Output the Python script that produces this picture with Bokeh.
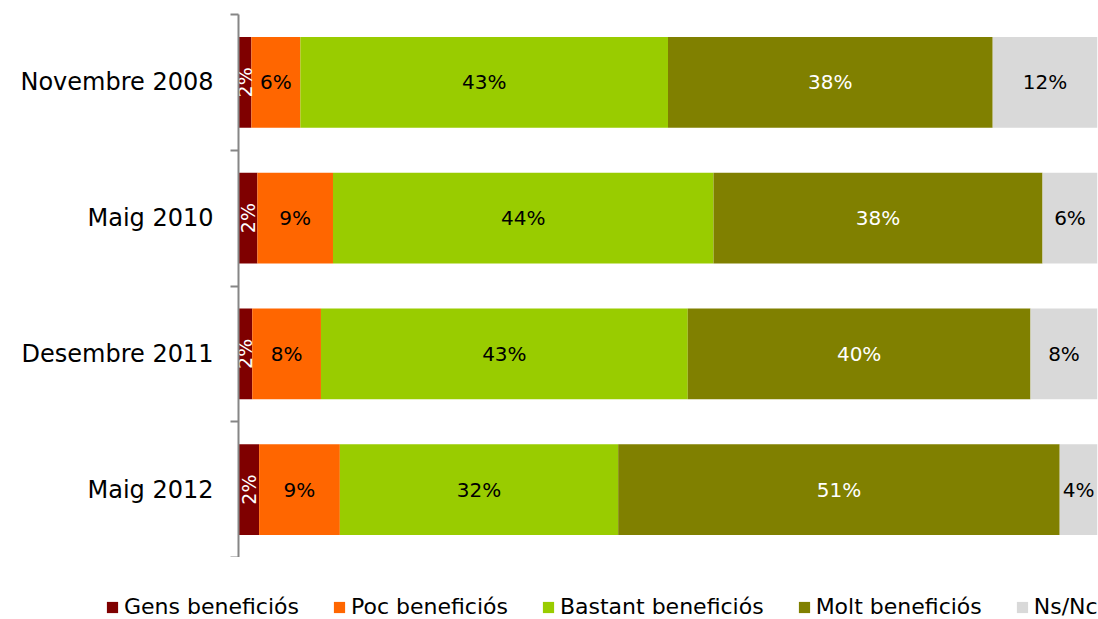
import math
from bokeh.plotting import figure
from bokeh.models import Range1d, FixedTicker, Legend, LegendItem, ColumnDataSource
from bokeh.core.properties import value
from bokeh.embed import file_html
from bokeh.resources import INLINE

categories = ["Novembre 2008", "Maig 2010", "Desembre 2011", "Maig 2012"]
series = ["Gens beneficiós", "Poc beneficiós", "Bastant beneficiós", "Molt beneficiós", "Ns/Nc"]
gens = [1.5, 2.2, 1.6, 2.4]
poc = [5.7, 8.8, 8.0, 9.4]
bastant = [42.8, 44.3, 42.7, 32.4]
molt = [37.8, 38.3, 39.9, 51.4]
nsnc = [12.2, 6.4, 7.8, 4.4]
labels_gens = ["2%", "2%", "2%", "2%"]
labels_poc = ["6%", "9%", "8%", "9%"]
labels_bastant = ["43%", "44%", "43%", "32%"]
labels_molt = ["38%", "38%", "40%", "51%"]
labels_nsnc = ["12%", "6%", "8%", "4%"]

colors = ["#7F0000", "#FF6600", "#99CC00", "#808000", "#D9D9D9"]
text_colors = ["white", "black", "black", "white", "black"]
FONT = "DejaVu Sans"

data = [gens, poc, bastant, molt, nsnc]
labels = [labels_gens, labels_poc, labels_bastant, labels_molt, labels_nsnc]
idx = list(range(len(categories)))

p = figure(width=1098, height=557, output_backend="svg", toolbar_location=None,
           x_range=Range1d(0, 100), y_range=Range1d(3.5, -0.5),
           min_border_left=238, min_border_right=1, min_border_top=14,
           min_border_bottom=0, x_axis_location=None)
p.outline_line_color = None
p.grid.visible = False
p.background_fill_color = "white"

src = ColumnDataSource(dict(y=idx, **{f"s{i}": d for i, d in enumerate(data)}))
p.hbar_stack([f"s{i}" for i in range(5)], y="y", height=0.67, color=colors,
             line_color=None, source=src)

left = [0.0] * len(categories)
for k, (d, lab) in enumerate(zip(data, labels)):
    centers = [l + v / 2 for l, v in zip(left, d)]
    left = [l + v for l, v in zip(left, d)]
    angle = math.pi / 2 if k == 0 else 0
    p.text(x=centers, y=idx, text=lab, angle=angle, text_align="center",
           text_baseline="middle", text_color=text_colors[k],
           text_font=value(FONT), text_font_size="19px" if k == 0 else "20px")

ax = p.yaxis[0]
ax.ticker = FixedTicker(ticks=idx, minor_ticks=[-0.5, 0.5, 1.5, 2.5, 3.5])
ax.major_label_overrides = {i: c for i, c in zip(idx, categories)}
ax.major_tick_out = 0
ax.major_tick_in = 0
ax.minor_tick_out = 8
ax.minor_tick_in = 0
ax.minor_tick_line_color = "#868686"
ax.minor_tick_line_width = 2
ax.axis_line_color = "#868686"
ax.axis_line_width = 2
ax.major_label_standoff = 17
ax.major_label_text_font = FONT
ax.major_label_text_font_size = "24px"
ax.major_label_text_color = "black"

# legend strip (separate root so its frame spans the full width)
lg = figure(width=1098, height=62, output_backend="svg", toolbar_location=None,
            x_range=Range1d(0, 1), y_range=Range1d(0, 1),
            min_border_left=0, min_border_right=0, min_border_top=0, min_border_bottom=0,
            x_axis_location=None, y_axis_location=None)
lg.outline_line_color = None
lg.grid.visible = False
# off-range proxy glyphs, only used to draw the legend swatches
dummies = [lg.quad(left=[-3], right=[-2], top=[-2], bottom=[-3], fill_color=c, line_color=None)
           for c in colors]
legend = Legend(items=[LegendItem(label=s, renderers=[r]) for s, r in zip(series, dummies)],
                orientation="horizontal", location=(105, 0),
                glyph_width=14, glyph_height=14, label_standoff=5, spacing=33,
                padding=0, margin=0, border_line_color=None,
                label_text_font=FONT, label_text_font_size="22px",
                label_text_color="black", background_fill_alpha=0)
lg.add_layout(legend, "center")

open("out.html", "w").write(file_html([p, lg], INLINE))
